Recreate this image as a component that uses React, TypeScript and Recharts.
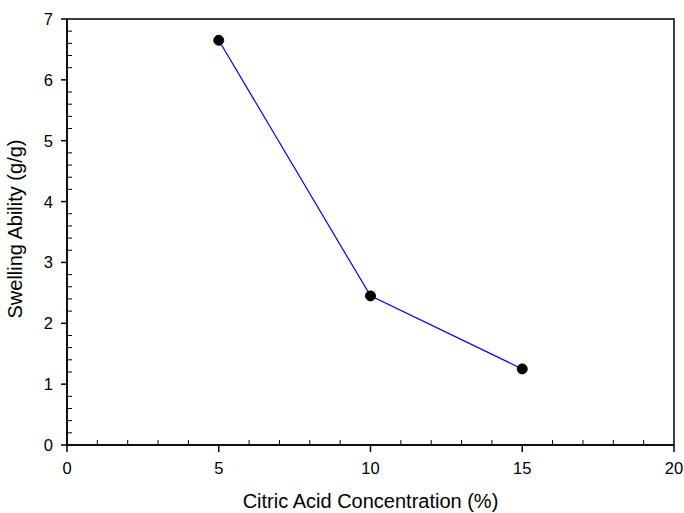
import React from 'react';
import { LineChart, Line, XAxis, YAxis, ReferenceArea } from 'recharts';

const concentration = [5, 10, 15];
const swelling = [6.65, 2.45, 1.25];

const xMajor = [0, 5, 10, 15, 20];
const yMajor = [0, 1, 2, 3, 4, 5, 6, 7];

// minor ticks: every 1 on x, every 0.2 on y
const xTicks = Array.from({ length: 21 }, (_, i) => i);
const yTicks = Array.from({ length: 36 }, (_, i) => Math.round(i * 2) / 10);

const data = concentration.map((c, i) => ({ c, swelling: swelling[i] }));

const FONT = 'Liberation Sans, Arial, sans-serif';
const TS = 6;
const TM = 2;

const isMajor = (v: number, list: number[]) => list.some((m) => Math.abs(m - v) < 1e-6);

const XTick = (props: any) => {
  const { x, y, payload } = props;
  const v = payload.value;
  const axisY = y - TS - TM;
  if (isMajor(v, xMajor)) {
    return (
      <g>
        <line x1={x} x2={x} y1={axisY} y2={axisY + 7} stroke="#000" strokeWidth={1.5} />
        <text x={x} y={axisY + 29} textAnchor="middle" fontSize={16.5} fontFamily={FONT} fill="#000">
          {v}
        </text>
      </g>
    );
  }
  return <line x1={x} x2={x} y1={axisY} y2={axisY - 5} stroke="#000" strokeWidth={1} />;
};

const YTick = (props: any) => {
  const { x, y, payload } = props;
  const v = payload.value;
  const axisX = x + TS + TM;
  if (isMajor(v, yMajor)) {
    return (
      <g>
        <line x1={axisX - 6} x2={axisX} y1={y} y2={y} stroke="#000" strokeWidth={1.5} />
        <text x={axisX - 14} y={y + 6} textAnchor="end" fontSize={16.5} fontFamily={FONT} fill="#000">
          {Math.round(v)}
        </text>
      </g>
    );
  }
  return <line x1={axisX} x2={axisX + 5} y1={y} y2={y} stroke="#000" strokeWidth={1} />;
};

const YLabel = (props: any) => {
  const { viewBox } = props;
  const cx = 22;
  const cy = viewBox.y + viewBox.height / 2 - 3;
  return (
    <text
      x={cx}
      y={cy}
      transform={`rotate(-90, ${cx}, ${cy})`}
      textAnchor="middle"
      fontSize={20}
      fontFamily={FONT}
      fill="#000"
    >
      Swelling Ability (g/g)
    </text>
  );
};

export default function App() {
  return (
    <div style={{ position: 'absolute', left: 0, top: 0, width: 684, height: 513, background: '#fff' }}>
      <LineChart width={684} height={513} data={data} margin={{ top: 19, right: 10, left: 0, bottom: 0 }}>
        <XAxis
          dataKey="c"
          type="number"
          domain={[0, 20]}
          ticks={xTicks}
          interval={0}
          height={68}
          tickSize={TS}
          tickMargin={TM}
          tickLine={false}
          tick={<XTick />}
          axisLine={{ stroke: '#000', strokeWidth: 1.5 }}
          label={{
            value: 'Citric Acid Concentration (%)',
            position: 'insideBottom',
            offset: 5,
            fontSize: 20,
            fontFamily: FONT,
            fill: '#000',
          }}
        />
        <YAxis
          type="number"
          domain={[0, 7]}
          ticks={yTicks}
          interval={0}
          width={67}
          tickSize={TS}
          tickMargin={TM}
          tickLine={false}
          tick={<YTick />}
          axisLine={{ stroke: '#000', strokeWidth: 1.5 }}
          label={{ content: <YLabel /> }}
        />
        <ReferenceArea x1={0} x2={20} y1={0} y2={7} stroke="#000" strokeWidth={1.5} fill="none" fillOpacity={0} />
        <Line
          dataKey="swelling"
          stroke="#0000ff"
          strokeWidth={1.2}
          dot={{ r: 5, fill: '#000', stroke: '#000', strokeWidth: 1 }}
          isAnimationActive={false}
        />
      </LineChart>
    </div>
  );
}
